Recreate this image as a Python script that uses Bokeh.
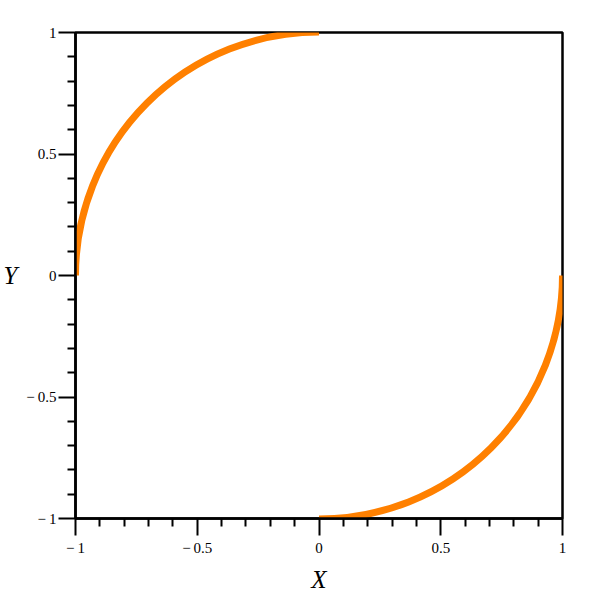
import math
from bokeh.plotting import figure
from bokeh.models import Range1d, FixedTicker
from bokeh.embed import file_html
from bokeh.resources import INLINE

# Data: two quarter-circle arcs of the unit circle
arc_cx = [0.0, 0.0]
arc_cy = [0.0, 0.0]
arc_r = [1.0, 1.0]
arc_start_deg = [90.0, 270.0]
arc_end_deg = [180.0, 360.0]

tick_values = [-1.0, -0.5, 0.0, 0.5, 1.0]
tick_labels = ["\u2212\u20091", "\u2212\u20090.5", "0", "0.5", "1"]
minor_values = [-0.9, -0.8, -0.7, -0.6, -0.4, -0.3, -0.2, -0.1,
                0.1, 0.2, 0.3, 0.4, 0.6, 0.7, 0.8, 0.9]

p = figure(width=595, height=605, output_backend="svg", toolbar_location=None,
           x_range=Range1d(-1, 1), y_range=Range1d(-1, 1),
           min_border_left=75, min_border_right=33, min_border_top=32, min_border_bottom=87)
p.grid.visible = False
p.background_fill_color = "white"
p.border_fill_color = "white"
p.outline_line_color = "black"
p.outline_line_width = 2.5
p.outline_line_alpha = 1.0

p.arc(x=arc_cx, y=arc_cy, radius=arc_r,
      start_angle=[math.radians(a) for a in arc_start_deg],
      end_angle=[math.radians(a) for a in arc_end_deg],
      line_color="#ff8000", line_width=7)

overrides = {v: l for v, l in zip(tick_values, tick_labels)}
for ax, name in ((p.xaxis[0], "X"), (p.yaxis[0], "Y")):
    ax.ticker = FixedTicker(ticks=tick_values, minor_ticks=minor_values)
    ax.major_label_overrides = overrides
    ax.axis_line_color = "black"
    ax.axis_line_width = 2.5
    ax.major_tick_line_color = "black"
    ax.major_tick_line_width = 2
    ax.minor_tick_line_color = "black"
    ax.minor_tick_line_width = 2
    ax.major_tick_in = 0
    ax.major_tick_out = 17
    ax.minor_tick_in = 0
    ax.minor_tick_out = 8
    ax.major_label_text_font = "Liberation Serif"
    ax.major_label_text_font_size = "15px"
    ax.major_label_text_color = "black"
    ax.axis_label = name
    ax.axis_label_text_font = "Liberation Serif"
    ax.axis_label_text_font_style = "italic"
    ax.axis_label_text_font_size = "25px"
    ax.axis_label_text_color = "black"

p.xaxis.major_label_standoff = 4
p.xaxis.axis_label_standoff = 7
p.yaxis.major_label_standoff = 2
p.yaxis.axis_label_standoff = 6
p.yaxis.axis_label_orientation = "horizontal"
p.yaxis.major_label_orientation = "horizontal"

open("out.html", "w").write(file_html(p, INLINE))
